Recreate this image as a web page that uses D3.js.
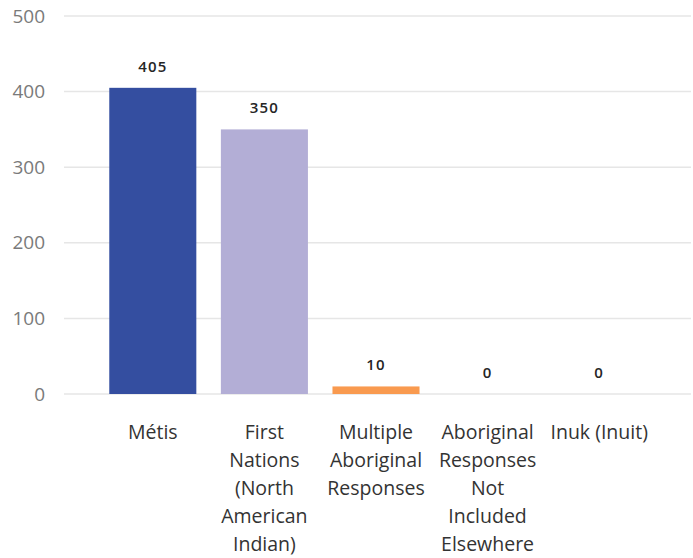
<!DOCTYPE html>
<html>
<head>
<meta charset="utf-8">
<script src="https://cdn.jsdelivr.net/npm/d3@7"></script>
<style>
body { margin: 0; background: #fff; }
text { font-family: "Open Sans", "Noto Sans", sans-serif; }
</style>
</head>
<body>
<div id="chart"></div>
<script>
// aboriginal identity counts

const categories = ["Métis", "First Nations (North American Indian)", "Multiple Aboriginal Responses", "Aboriginal Responses Not Included Elsewhere", "Inuk (Inuit)"]
const values = [405, 350, 10, 0, 0]
const colors = ["#344ea0", "#b3aed6", "#f99a4f", "#344ea0", "#344ea0"]
const yTicks = [0, 100, 200, 300, 400, 500]

const width = 693, height = 558

var svg = d3.select("#chart").append("svg")
    .attr("width", width)
    .attr("height", height)

var x = d3.scaleBand()
    .domain(categories)
    .range([97, 655])
    .paddingInner(0.22)
    .paddingOuter(0.11)

var y = d3.scaleLinear()
    .domain([0, 500])
    .range([394, 16])

// gridlines + y labels
svg.append("g").selectAll("line")
    .data(yTicks)
    .join("line")
    .attr("x1", 64).attr("x2", 691)
    .attr("y1", d => y(d)).attr("y2", d => y(d))
    .style("stroke", "#e6e6e6")
    .style("stroke-width", 1.5)

svg.append("g").selectAll("text")
    .data(yTicks)
    .join("text")
    .attr("x", 45)
    .attr("y", d => y(d))
    .attr("dy", "0.35em")
    .attr("text-anchor", "end")
    .style("font-size", "19px")
    .style("fill", "#7a7a7a")
    .text(d => d)

// bars
svg.append("g").selectAll("rect")
    .data(values)
    .join("rect")
    .attr("x", (d, i) => x(categories[i]))
    .attr("width", x.bandwidth())
    .attr("y", d => y(d))
    .attr("height", d => y(0) - y(d))
    .style("fill", (d, i) => colors[i])

// value labels
svg.append("g").selectAll("text")
    .data(values)
    .join("text")
    .attr("x", (d, i) => x(categories[i]) + x.bandwidth() / 2)
    .attr("y", d => y(d) - 16)
    .attr("text-anchor", "middle")
    .style("font-size", "15px")
    .style("font-weight", "600")
    .style("letter-spacing", "1.2px")
    .style("fill", "#252525")
    .text(d => d)

// category labels, wrapped
function wrap(sel, w) {
    sel.each(function () {
        var t = d3.select(this)
        var words = t.text().split(" ")
        t.text(null)
        var line = []
        var cx = t.attr("x")
        var tspan = t.append("tspan").attr("x", cx).attr("dy", 0)
        words.forEach(function (wd) {
            line.push(wd)
            tspan.text(line.join(" "))
            if (tspan.node().getComputedTextLength() > w && line.length > 1) {
                line.pop()
                tspan.text(line.join(" "))
                line = [wd]
                tspan = t.append("tspan").attr("x", cx).attr("dy", "1.43em").text(wd)
            }
        })
    })
}

svg.append("g").selectAll("text")
    .data(categories)
    .join("text")
    .attr("x", d => x(d) + x.bandwidth() / 2)
    .attr("y", 439)
    .attr("text-anchor", "middle")
    .style("font-size", "19.5px")
    .style("fill", "#333")
    .text(d => d)
    .call(wrap, 106)
</script>
</body>
</html>
